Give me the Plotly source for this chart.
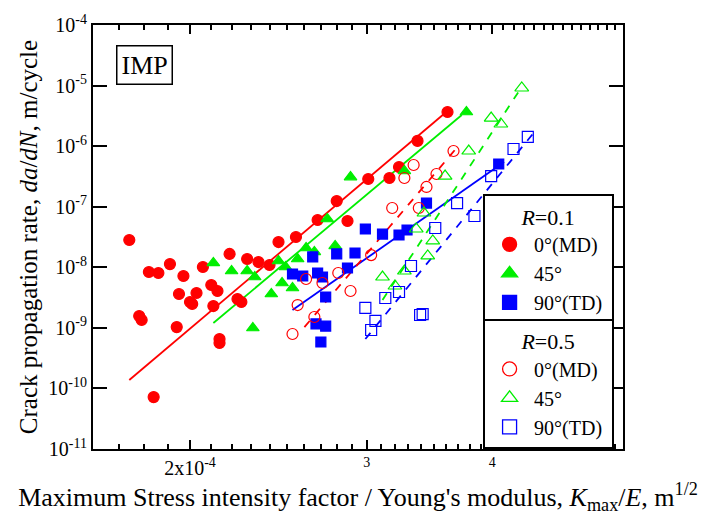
import numpy as np
import plotly.graph_objects as go

# ---- data (x in units of 1e-4 m^1/2, y in m/cycle) ----
md01_x = [1.74,1.78,1.79,1.82,1.86,1.84,1.91,1.94,1.95,1.97,2.00,2.01,2.03,2.06,2.10,2.11,2.13,2.14,2.14,
          2.19,2.23,2.25,2.28,2.34,2.40,2.45,2.55,2.68,2.80,2.87,3.01,3.16,3.23,3.37,3.61]
md01_y = [2.82e-8,1.57e-9,1.35e-9,8.36e-9,8.05e-9,7.2e-11,1.13e-8,1.03e-9,3.62e-9,7.18e-9,2.67e-9,2.48e-9,
          3.76e-9,1.01e-8,5.10e-9,2.29e-9,4.06e-9,6.54e-10,5.62e-10,1.66e-8,2.99e-9,2.67e-9,1.37e-8,1.22e-8,
          1.09e-8,2.61e-8,3.16e-8,6.03e-8,1.24e-7,5.81e-8,2.87e-7,2.98e-7,4.52e-7,1.22e-6,3.66e-6]

d45_01_x = [2.11,2.20,2.28,2.32,2.31,2.41,2.45,2.49,2.47,2.53,2.56,2.61,2.66,2.74,2.79,2.89,3.27,3.77]
d45_01_y = [1.18e-8,8.68e-9,8.68e-9,6.91e-9,9.94e-10,3.62e-9,1.27e-8,1.01e-8,5.50e-9,4.55e-9,1.37e-8,
            2.08e-8,1.79e-8,6.27e-8,2.25e-8,3.09e-7,3.89e-7,3.66e-6]

td01_x = [2.53,2.59,2.65,2.67,2.68,2.70,2.71,2.73,2.73,2.80,2.87,2.92,2.99,3.11,3.23,3.29,3.44,4.06]
td01_y = [7.74e-9,7.18e-9,1.48e-8,1.16e-9,8.05e-9,5.84e-10,6.91e-9,1.07e-9,3.23e-9,1.66e-8,9.73e-9,
          1.72e-8,4.29e-8,3.54e-8,3.41e-8,4.13e-8,1.15e-7,5.07e-7]

md05_x = [2.53,2.56,2.61,2.66,2.71,2.81,2.89,3.03,3.18,3.27,3.34,3.38,3.44,3.52,3.66]
md05_y = [7.91e-10,2.38e-9,6.41e-9,1.51e-9,5.50e-9,8.05e-9,4.06e-9,1.59e-8,9.52e-8,2.98e-7,4.88e-7,
          9.52e-8,2.12e-7,3.47e-7,8.31e-7]

d45_05_x = [3.11,3.20,3.27,3.36,3.42,3.45,3.49,3.59,3.79,3.99,4.08,4.28]
d45_05_y = [6.91e-9,4.91e-9,8.68e-9,4.29e-8,7.87e-8,1.54e-8,2.72e-8,3.21e-7,8.31e-7,2.91e-6,2.32e-6,9.12e-6]

td05_x = [2.99,3.03,3.06,3.13,3.23,3.32,3.39,3.41,3.51,3.69,3.84,3.99,4.20,4.34]
td05_y = [2.13e-9,9.21e-10,1.30e-9,3.11e-9,3.91e-9,1.05e-8,1.63e-9,1.69e-9,4.45e-8,1.15e-7,7.02e-8,
          3.21e-7,8.97e-7,1.42e-6]

# fitted lines (end points)
fit_md01_x = [1.74, 3.59]; fit_md01_y = [1.38e-10, 3.52e-6]
fit_45_01_x = [2.11, 3.73]; fit_45_01_y = [1.20e-9, 3.27e-6]
fit_td01_x = [2.53, 4.11]; fit_td01_y = [1.97e-9, 5.47e-7]
fit_md05_x = [2.60, 3.70]; fit_md05_y = [1.03e-9, 1.005e-6]
fit_45_05_x = [3.11, 4.26]; fit_45_05_y = [2.88e-9, 8.45e-6]
fit_td05_x = [2.99, 4.39]; fit_td05_y = [6.54e-10, 1.59e-6]

y_tickvals = [1e-11, 1e-10, 1e-9, 1e-8, 1e-7, 1e-6, 1e-5, 1e-4]
y_ticktext = ["10<sup>-11</sup>", "10<sup>-10</sup>", "10<sup>-9</sup>", "10<sup>-8</sup>",
              "10<sup>-7</sup>", "10<sup>-6</sup>", "10<sup>-5</sup>", "10<sup>-4</sup>"]
x_tickvals_e4 = [2, 3, 4]
x_ticktext = ["2x10<sup>-4</sup>", "<sup>3</sup>", "<sup>4</sup>"]
x_minor_e4 = [1.7, 1.8, 1.9, 2.1, 2.2, 2.3, 2.4, 2.5, 2.6, 2.7, 2.8, 2.9, 3.1, 3.2, 3.3, 3.4, 3.5,
              3.6, 3.7, 3.8, 3.9, 4.1, 4.2, 4.3, 4.4, 4.5, 4.6, 4.7, 4.8, 4.9, 5.0, 5.1, 5.2, 5.3]

E4 = 1e-4
def sx(v):
    return [a * E4 for a in v]

RED = "#ff0000"
GREEN = "#00ee00"
BLUE = "#0000ff"
FONT = "Liberation Serif, Times New Roman, serif"

fig = go.Figure()

# fitted lines
for fx, fy, col, dash in [
    (fit_md01_x, fit_md01_y, RED, "solid"),
    (fit_45_01_x, fit_45_01_y, GREEN, "solid"),
    (fit_td01_x, fit_td01_y, BLUE, "solid"),
    (fit_md05_x, fit_md05_y, RED, "8px,8px"),
    (fit_45_05_x, fit_45_05_y, GREEN, "8px,8px"),
    (fit_td05_x, fit_td05_y, BLUE, "8px,8px"),
]:
    fig.add_trace(go.Scatter(x=sx(fx), y=fy, mode="lines", showlegend=False,
                             line=dict(color=col, width=1.8, dash=dash), hoverinfo="skip"))

series = [
    (md01_x, md01_y, "0°(MD)", "circle", RED, "legend", 11),
    (d45_01_x, d45_01_y, "45°", "triangle-up", GREEN, "legend", 11),
    (td01_x, td01_y, "90°(TD)", "square", BLUE, "legend", 10),
    (md05_x, md05_y, "0°(MD)", "circle-open", RED, "legend2", 11),
    (d45_05_x, d45_05_y, "45°", "triangle-up-open", GREEN, "legend2", 12),
    (td05_x, td05_y, "90°(TD)", "square-open", BLUE, "legend2", 11),
]
for xs, ys, name, sym, col, leg, size in series:
    fig.add_trace(go.Scatter(
        x=sx(xs), y=ys, mode="markers", name=name, showlegend=False,
        marker=dict(symbol=sym, color=col, size=size, line=dict(color=col, width=1.2)),
    ))
# legend entries (larger symbols, as in the reference key)
for xs, ys, name, sym, col, leg, size in series:
    fig.add_trace(go.Scatter(
        x=[None], y=[None], mode="markers", name=name + "&nbsp;", legend=leg,
        marker=dict(symbol=sym, color=col, size=14, line=dict(color=col, width=1.3)),
    ))

axis_common = dict(
    type="log", showline=True, linecolor="black", linewidth=2, mirror="allticks",
    ticks="inside", tickcolor="black", tickwidth=2, showgrid=False, zeroline=False,
    tickfont=dict(family=FONT, size=20, color="black"),
)

legend_common = dict(
    xanchor="left", yanchor="top",
    bordercolor="black", borderwidth=2, bgcolor="white",
    font=dict(family=FONT, size=20, color="black"),
    tracegroupgap=0, itemwidth=39,
)

fig.update_layout(
    width=703, height=520,
    margin=dict(l=93, r=80, t=25, b=71),
    plot_bgcolor="white", paper_bgcolor="white",
    font=dict(family=FONT, size=20, color="black"),
    xaxis=dict(
        **axis_common,
        range=[-3.7956, -3.2677],
        tickmode="array", tickvals=sx(x_tickvals_e4), ticktext=x_ticktext, ticklen=9,
        minor=dict(tickmode="array", tickvals=sx(x_minor_e4), ticks="inside", ticklen=5,
                   tickwidth=1.5, tickcolor="black"),
        title=dict(text="Maximum Stress intensity factor / Young's modulus, <i>K</i><sub>max</sub>/<i>E</i>, m<sup>1/2</sup>",
                   font=dict(family=FONT, size=26, color="black"), standoff=2),
    ),
    yaxis=dict(
        **axis_common,
        range=[-11, -4],
        tickmode="array", tickvals=y_tickvals, ticktext=y_ticktext, ticklen=14,
        title=dict(text="Crack propagation rate, <i>da</i>/<i>dN</i>, m/cycle",
                   font=dict(family=FONT, size=25, color="black"), standoff=4),
    ),
    legend=dict(
        **legend_common, x=0.736, y=0.601,
        title=dict(text="<i>R</i>=0.1", side="top center", font=dict(family=FONT, size=22)),
    ),
    legend2=dict(
        **legend_common, x=0.736, y=0.307,
        title=dict(text="<i>R</i>=0.5", side="top center", font=dict(family=FONT, size=22)),
    ),
    annotations=[dict(
        text="IMP", xref="paper", yref="paper", x=0.043, y=0.952,
        xanchor="left", yanchor="top", showarrow=False,
        font=dict(family=FONT, size=26, color="black"),
        bordercolor="black", borderwidth=1.5, borderpad=4, bgcolor="white",
    )],
)

fig.write_html("out.html")
